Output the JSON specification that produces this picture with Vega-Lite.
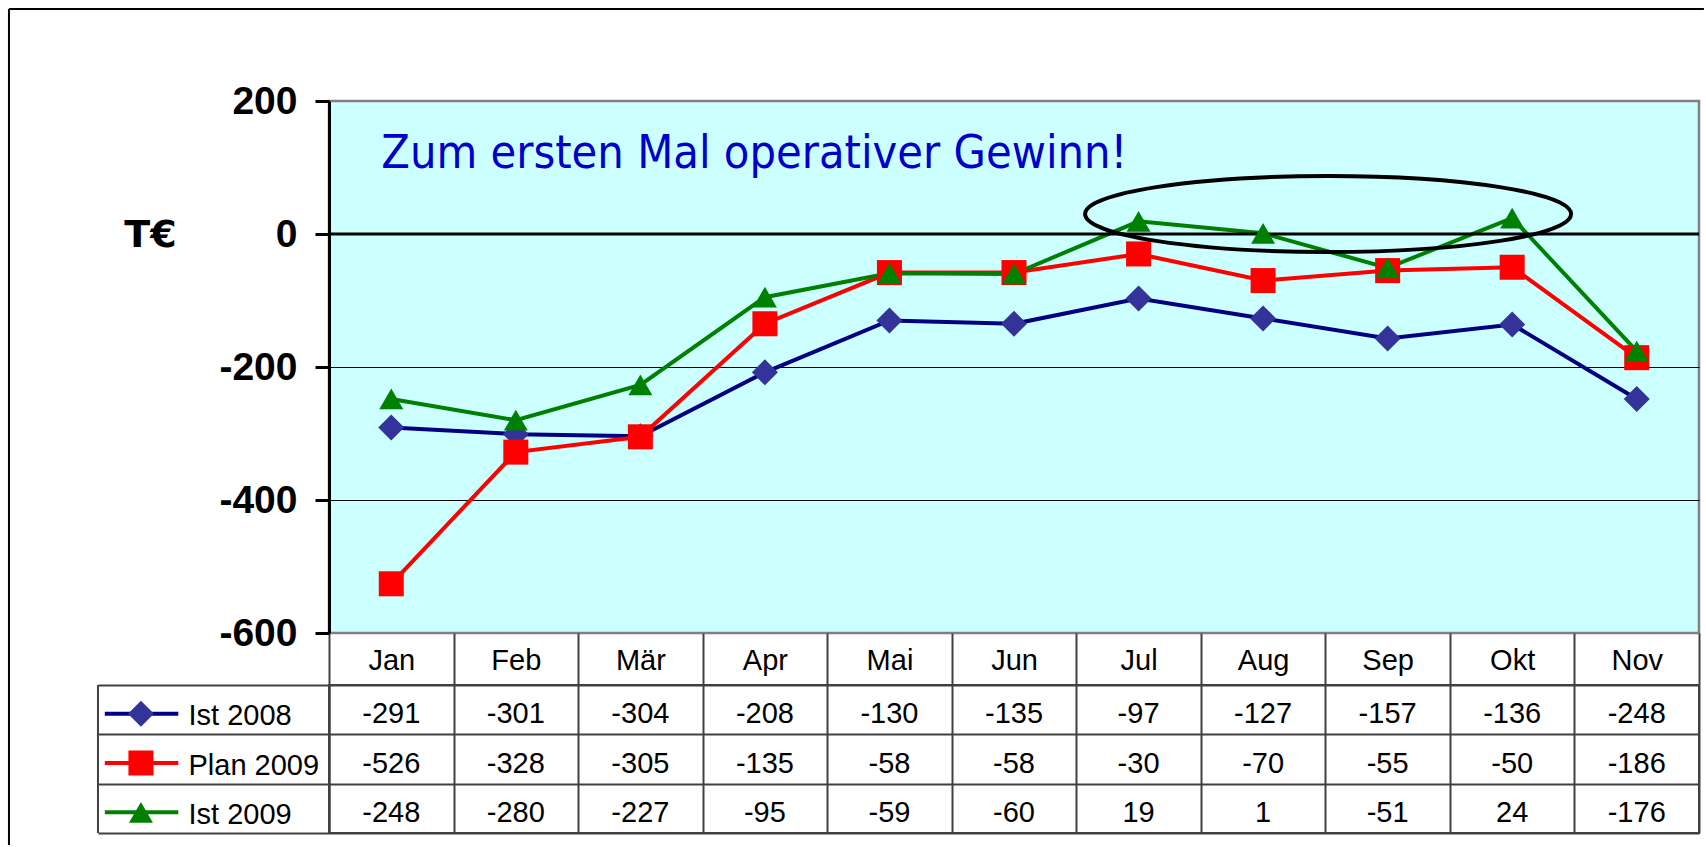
{
  "$schema": "https://vega.github.io/schema/vega-lite/v6.json",
  "background": "white",
  "autosize": {"type": "pad"},
  "padding": {"left": 6, "top": 6, "right": 0, "bottom": 0},
  "datasets": {
    "werte": [
      {"series": "Ist 2008", "month": "Jan", "value": -291},
      {"series": "Ist 2008", "month": "Feb", "value": -301},
      {"series": "Ist 2008", "month": "Mär", "value": -304},
      {"series": "Ist 2008", "month": "Apr", "value": -208},
      {"series": "Ist 2008", "month": "Mai", "value": -130},
      {"series": "Ist 2008", "month": "Jun", "value": -135},
      {"series": "Ist 2008", "month": "Jul", "value": -97},
      {"series": "Ist 2008", "month": "Aug", "value": -127},
      {"series": "Ist 2008", "month": "Sep", "value": -157},
      {"series": "Ist 2008", "month": "Okt", "value": -136},
      {"series": "Ist 2008", "month": "Nov", "value": -248},
      {"series": "Plan 2009", "month": "Jan", "value": -526},
      {"series": "Plan 2009", "month": "Feb", "value": -328},
      {"series": "Plan 2009", "month": "Mär", "value": -305},
      {"series": "Plan 2009", "month": "Apr", "value": -135},
      {"series": "Plan 2009", "month": "Mai", "value": -58},
      {"series": "Plan 2009", "month": "Jun", "value": -58},
      {"series": "Plan 2009", "month": "Jul", "value": -30},
      {"series": "Plan 2009", "month": "Aug", "value": -70},
      {"series": "Plan 2009", "month": "Sep", "value": -55},
      {"series": "Plan 2009", "month": "Okt", "value": -50},
      {"series": "Plan 2009", "month": "Nov", "value": -186},
      {"series": "Ist 2009", "month": "Jan", "value": -248},
      {"series": "Ist 2009", "month": "Feb", "value": -280},
      {"series": "Ist 2009", "month": "Mär", "value": -227},
      {"series": "Ist 2009", "month": "Apr", "value": -95},
      {"series": "Ist 2009", "month": "Mai", "value": -59},
      {"series": "Ist 2009", "month": "Jun", "value": -60},
      {"series": "Ist 2009", "month": "Jul", "value": 19},
      {"series": "Ist 2009", "month": "Aug", "value": 1},
      {"series": "Ist 2009", "month": "Sep", "value": -51},
      {"series": "Ist 2009", "month": "Okt", "value": 24},
      {"series": "Ist 2009", "month": "Nov", "value": -176}
    ],
    "hinweis": [{"txt": "Zum ersten Mal operativer Gewinn!"}],
    "markierung": [{"note": "Gewinn Jul–Okt"}],
    "rahmen": [{"part": "border"}]
  },
  "bounds": "flush",
  "spacing": 52,
  "vconcat": [
    {
      "width": 1370,
      "height": 532,
      "view": {"fill": "#CCFFFF", "stroke": "#808080", "strokeWidth": 2.5},
      "resolve": {"scale": {"x": "independent"}},
      "layer": [
        {
          "layer": [
            {
              "data": {"name": "werte"},
              "mark": {"type": "line", "strokeWidth": 4},
              "encoding": {
                "x": {
                  "field": "month", "type": "nominal",
                  "sort": ["Jan", "Feb", "Mär", "Apr", "Mai", "Jun", "Jul", "Aug", "Sep", "Okt", "Nov"],
                  "bandPosition": 0.5,
                  "scale": {"type": "band", "domain": ["Jan", "Feb", "Mär", "Apr", "Mai", "Jun", "Jul", "Aug", "Sep", "Okt", "Nov"], "paddingInner": 0, "paddingOuter": 0},
                  "axis": {
                    "title": null, "orient": "bottom", "domain": false,
                    "ticks": true, "tickBand": "extent", "tickSize": 52, "tickColor": "#404040", "tickWidth": 2,
                    "grid": false,
                    "labelFont": "Liberation Sans", "labelFontSize": 29, "labelColor": "black",
                    "labelPadding": -25, "labelBaseline": "middle", "labelAngle": 0, "labelLimit": 0
                  }
                },
                "y": {
                  "field": "value", "type": "quantitative",
                  "scale": {"domain": [-600, 200], "nice": false, "zero": false},
                  "axis": {
                    "title": "T€", "titleAngle": 0, "titleFont": "DejaVu Sans", "titleFontSize": 38,
                    "titleFontWeight": "bold", "titleColor": "black", "titleX": -179, "titleY": 134,
                    "titleAlign": "center", "titleBaseline": "middle",
                    "values": [-600, -400, -200, 0, 200],
                    "labelExpr": "'' + datum.value",
                    "labelFont": "Liberation Sans", "labelFontSize": 39, "labelFontWeight": "bold",
                    "labelColor": "black", "labelPadding": 18, "labelFlush": false, "labelOverlap": false,
                    "domain": true, "domainColor": "black", "domainWidth": 3,
                    "ticks": true, "tickColor": "black", "tickWidth": 3, "tickSize": 14,
                    "grid": true, "gridWidth": 1,
                    "gridColor": {"condition": {"test": "datum.value === 200 || datum.value === -600 || datum.value === 0", "value": "transparent"}, "value": "black"}
                  }
                },
                "stroke": {
                  "field": "series", "type": "nominal",
                  "scale": {"domain": ["Ist 2008", "Plan 2009", "Ist 2009"], "range": ["#000080", "#FF0000", "#008000"]},
                  "legend": null
                }
              }
            },
            {
              "data": {"name": "rahmen"},
              "mark": {"type": "rule", "color": "black", "strokeWidth": 3},
              "encoding": {
                "y": {"datum": 0, "type": "quantitative"}
              }
            },
            {
              "data": {"name": "werte"},
              "mark": {"type": "point", "filled": true, "opacity": 1, "strokeWidth": 0},
              "encoding": {
                "x": {"field": "month", "type": "nominal", "sort": ["Jan", "Feb", "Mär", "Apr", "Mai", "Jun", "Jul", "Aug", "Sep", "Okt", "Nov"], "bandPosition": 0.5},
                "y": {"field": "value", "type": "quantitative"},
                "shape": {
                  "field": "series", "type": "nominal",
                  "scale": {"domain": ["Ist 2008", "Plan 2009", "Ist 2009"], "range": ["diamond", "square", "triangle-up"]},
                  "legend": null
                },
                "fill": {
                  "field": "series", "type": "nominal",
                  "scale": {"domain": ["Ist 2008", "Plan 2009", "Ist 2009"], "range": ["#333399", "#FF0000", "#008000"]},
                  "legend": null
                },
                "size": {
                  "field": "series", "type": "ordinal",
                  "scale": {"domain": ["Ist 2008", "Plan 2009", "Ist 2009"], "range": [676, 576, 700]},
                  "legend": null
                }
              }
            },
            {
              "data": {"name": "hinweis"},
              "mark": {"type": "text", "align": "left", "baseline": "alphabetic", "font": "DejaVu Sans Condensed", "fontSize": 46.5, "color": "#0000CC", "dx": -10},
              "encoding": {
                "x": {"datum": "Jan", "type": "nominal", "bandPosition": 0.5},
                "y": {"datum": 100, "type": "quantitative"},
                "text": {"field": "txt", "type": "nominal"}
              }
            },
            {
              "data": {"name": "markierung"},
              "mark": {
                "type": "point", "filled": false, "opacity": 1, "stroke": "black", "strokeWidth": 4, "size": 10000,
                "shape": "M -3.56 -0.4 A 4.86 0.76 0 1 0 6.16 -0.4 A 4.86 0.76 0 1 0 -3.56 -0.4 Z"
              },
              "encoding": {
                "x": {"datum": "Aug", "type": "nominal", "bandPosition": 0.5},
                "y": {"datum": 0, "type": "quantitative"}
              }
            }
          ]
        },
        {
          "data": {"name": "rahmen"},
          "layer": [
            {
              "mark": {"type": "rule", "color": "black", "strokeWidth": 2},
              "encoding": {
                "x": {"datum": -0.2336, "type": "quantitative", "scale": {"domain": [0, 1], "nice": false, "zero": false}, "axis": null},
                "x2": {"datum": 1.0036},
                "y": {"datum": 338.3, "type": "quantitative", "scale": {"domain": [-600, 200], "nice": false, "zero": false}}
              }
            },
            {
              "mark": {"type": "rule", "color": "black", "strokeWidth": 2},
              "encoding": {
                "x": {"datum": -0.2336, "type": "quantitative", "scale": {"domain": [0, 1], "nice": false, "zero": false}, "axis": null},
                "y": {"datum": 338.3, "type": "quantitative", "scale": {"domain": [-600, 200], "nice": false, "zero": false}},
                "y2": {"datum": -918.8}
              }
            }
          ]
        }
      ]
    },
    {
      "width": 1370,
      "height": 148,
      "view": {"stroke": "#404040", "strokeWidth": 2},
      "resolve": {"scale": {"x": "independent"}},
      "layer": [
        {
          "data": {"name": "werte"},
          "mark": {"type": "text", "font": "Liberation Sans", "fontSize": 29, "dy": 4.5, "baseline": "middle", "align": "center", "color": "black"},
          "encoding": {
            "x": {
              "field": "month", "type": "nominal",
              "sort": ["Jan", "Feb", "Mär", "Apr", "Mai", "Jun", "Jul", "Aug", "Sep", "Okt", "Nov"],
              "scale": {"type": "band", "domain": ["Jan", "Feb", "Mär", "Apr", "Mai", "Jun", "Jul", "Aug", "Sep", "Okt", "Nov"], "paddingInner": 0, "paddingOuter": 0},
              "axis": {
                "title": null, "orient": "bottom", "domain": false, "ticks": false, "labels": false,
                "grid": true, "tickBand": "extent", "gridColor": "#404040", "gridWidth": 2
              }
            },
            "y": {
              "field": "series", "type": "nominal",
              "sort": ["Ist 2008", "Plan 2009", "Ist 2009"],
              "scale": {"type": "band", "domain": ["Ist 2008", "Plan 2009", "Ist 2009"], "paddingInner": 0, "paddingOuter": 0},
              "axis": {
                "title": null, "orient": "left",
                "domain": true, "domainColor": "#404040", "domainWidth": 2,
                "ticks": true, "tickBand": "extent", "tickSize": 231, "tickColor": "#404040", "tickWidth": 2,
                "grid": true, "gridColor": "#404040", "gridWidth": 2,
                "labelAlign": "left", "labelPadding": -90, "labelFont": "Liberation Sans", "labelFontSize": 29,
                "labelColor": "black", "labelOffset": 6, "labelBaseline": "middle", "labelLimit": 0
              }
            },
            "text": {"field": "value", "type": "nominal"}
          }
        },
        {
          "data": {"name": "werte"},
          "transform": [{"filter": "datum.month === 'Jan'"}],
          "mark": {"type": "rule", "strokeWidth": 4, "yOffset": 4},
          "encoding": {
            "x": {"datum": -1.8, "type": "quantitative", "scale": {"domain": [0, 11], "nice": false, "zero": false}, "axis": null},
            "x2": {"datum": -1.21},
            "y": {"field": "series", "type": "nominal", "sort": ["Ist 2008", "Plan 2009", "Ist 2009"]},
            "stroke": {
              "field": "series", "type": "nominal",
              "scale": {"domain": ["Ist 2008", "Plan 2009", "Ist 2009"], "range": ["#000080", "#FF0000", "#008000"]},
              "legend": null
            }
          }
        },
        {
          "data": {"name": "werte"},
          "transform": [{"filter": "datum.month === 'Jan'"}],
          "mark": {"type": "point", "filled": true, "opacity": 1, "strokeWidth": 0, "yOffset": 4},
          "encoding": {
            "x": {"datum": -1.51, "type": "quantitative", "scale": {"domain": [0, 11], "nice": false, "zero": false}, "axis": null},
            "y": {"field": "series", "type": "nominal", "sort": ["Ist 2008", "Plan 2009", "Ist 2009"]},
            "shape": {
              "field": "series", "type": "nominal",
              "scale": {"domain": ["Ist 2008", "Plan 2009", "Ist 2009"], "range": ["diamond", "square", "triangle-up"]},
              "legend": null
            },
            "fill": {
              "field": "series", "type": "nominal",
              "scale": {"domain": ["Ist 2008", "Plan 2009", "Ist 2009"], "range": ["#333399", "#FF0000", "#008000"]},
              "legend": null
            },
            "size": {
              "field": "series", "type": "ordinal",
              "scale": {"domain": ["Ist 2008", "Plan 2009", "Ist 2009"], "range": [676, 576, 700]},
              "legend": null
            }
          }
        },
        {
          "data": {"name": "rahmen"},
          "mark": {"type": "rule", "color": "#404040", "strokeWidth": 2},
          "encoding": {
            "x": {"datum": -1.855, "type": "quantitative", "scale": {"domain": [0, 11], "nice": false, "zero": false}, "axis": null}
          }
        }
      ]
    }
  ]
}
